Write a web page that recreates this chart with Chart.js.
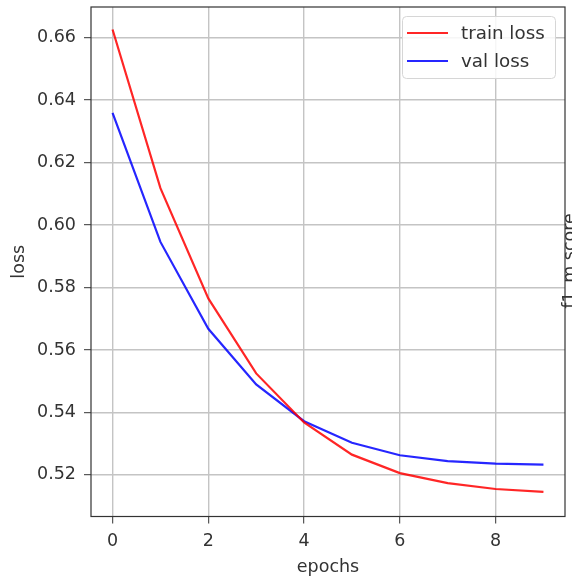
<!DOCTYPE html>
<html>
<head>
<meta charset="utf-8">
<script src="https://cdn.jsdelivr.net/npm/chart.js@4/dist/chart.umd.min.js"></script>
<style>
  html, body { margin: 0; padding: 0; background: #fff; }
  #wrap { width: 572px; height: 582px; }
</style>
</head>
<body>
<div id="wrap"><canvas id="lossChart" width="572" height="582"></canvas></div>
<script>
// values
const epochs = [0, 1, 2, 3, 4, 5, 6, 7, 8, 9];
const trainLoss = [0.6626, 0.6118, 0.5765, 0.5525, 0.5368, 0.5265, 0.5206, 0.5174, 0.5155, 0.5146];
const valLoss = [0.6359, 0.5946, 0.5668, 0.5490, 0.5372, 0.5303, 0.5263, 0.5244, 0.5236, 0.5233];
const xTicks = [0, 2, 4, 6, 8];
const yTicks = [0.52, 0.54, 0.56, 0.58, 0.60, 0.62, 0.64, 0.66];

const FONT = 'DejaVu Sans';
const TEXT = '#333';

function toPoints(values) {
  return epochs.map((e, i) => ({ x: e, y: values[i] }));
}

// full box around the plot, like matplotlib spines
const frame = {
  id: 'frame',
  afterDraw(chart) {
    const { ctx, chartArea: a } = chart;
    ctx.save();
    ctx.strokeStyle = '#333';
    ctx.lineWidth = 1.2;
    ctx.strokeRect(a.left, a.top, a.right - a.left, a.bottom - a.top);
    ctx.restore();
  }
};

// legend box in the upper right corner of the plot
const boxLegend = {
  id: 'boxLegend',
  afterDraw(chart) {
    const ctx = chart.ctx;
    const x = 402.5, y = 16.5, w = 153, h = 62, r = 4;
    ctx.save();
    ctx.fillStyle = 'rgba(255,255,255,0.85)';
    ctx.strokeStyle = '#d6d6d6';
    ctx.lineWidth = 1;
    ctx.beginPath();
    ctx.roundRect(x, y, w, h, r);
    ctx.fill();
    ctx.stroke();
    ctx.font = '18.3px ' + FONT;
    ctx.textBaseline = 'middle';
    chart.data.datasets.forEach((ds, i) => {
      const ly = 33 + i * 28;
      ctx.strokeStyle = ds.borderColor;
      ctx.lineWidth = ds.borderWidth;
      ctx.beginPath();
      ctx.moveTo(407, ly);
      ctx.lineTo(448, ly);
      ctx.stroke();
      ctx.fillStyle = TEXT;
      ctx.fillText(ds.label, 461, ly + 1);
    });
    ctx.restore();
  }
};

// clipped y label of a neighbouring subplot at the right edge
const sideLabel = {
  id: 'sideLabel',
  afterDraw(chart) {
    const ctx = chart.ctx;
    ctx.save();
    ctx.translate(562, 261);
    ctx.rotate(-Math.PI / 2);
    ctx.font = '17.5px ' + FONT;
    ctx.fillStyle = TEXT;
    ctx.textAlign = 'center';
    ctx.textBaseline = 'top';
    ctx.fillText('f1_m score', 0, 0);
    ctx.restore();
  }
};

new Chart(document.getElementById('lossChart'), {
  type: 'line',
  data: {
    datasets: [
      {
        label: 'train loss',
        data: toPoints(trainLoss),
        borderColor: 'rgba(255,0,0,0.85)',
        borderWidth: 2.2,
        pointRadius: 0,
        tension: 0
      },
      {
        label: 'val loss',
        data: toPoints(valLoss),
        borderColor: 'rgba(0,0,255,0.85)',
        borderWidth: 2.2,
        pointRadius: 0,
        tension: 0
      }
    ]
  },
  options: {
    responsive: false,
    animation: false,
    layout: { padding: { top: 7, right: 7, left: 0, bottom: 0 } },
    plugins: {
      legend: { display: false },
      tooltip: { enabled: false }
    },
    scales: {
      x: {
        type: 'linear',
        min: -0.45,
        max: 9.45,
        afterBuildTicks: axis => { axis.ticks = xTicks.map(v => ({ value: v })); },
        afterFit: axis => { axis.height = 65.5; axis.paddingLeft = 0; axis.paddingRight = 0; },
        grid: { color: '#c4c4c4', lineWidth: 1.4, tickLength: 7, tickColor: '#333', tickWidth: 1 },
        border: { display: false },
        ticks: { color: TEXT, font: { family: FONT, size: 17.5 }, padding: 7, maxRotation: 0 },
        title: { display: true, text: 'epochs', color: TEXT, font: { family: FONT, size: 17.5 }, padding: { top: 0, bottom: 4 } }
      },
      y: {
        type: 'linear',
        min: 0.5067,
        max: 0.6698,
        afterBuildTicks: axis => { axis.ticks = yTicks.map(v => ({ value: v })); },
        afterFit: axis => { axis.width = 91; axis.paddingTop = 0; axis.paddingBottom = 0; },
        grid: { color: '#c4c4c4', lineWidth: 1.4, tickLength: 7, tickColor: '#333', tickWidth: 1 },
        border: { display: false },
        ticks: { color: TEXT, font: { family: FONT, size: 17.5 }, padding: 8, callback: v => v.toFixed(2) },
        title: { display: true, text: 'loss', color: TEXT, font: { family: FONT, size: 17.5 }, padding: { top: 9, bottom: 0 } }
      }
    }
  },
  plugins: [frame, boxLegend, sideLabel]
});
</script>
</body>
</html>
